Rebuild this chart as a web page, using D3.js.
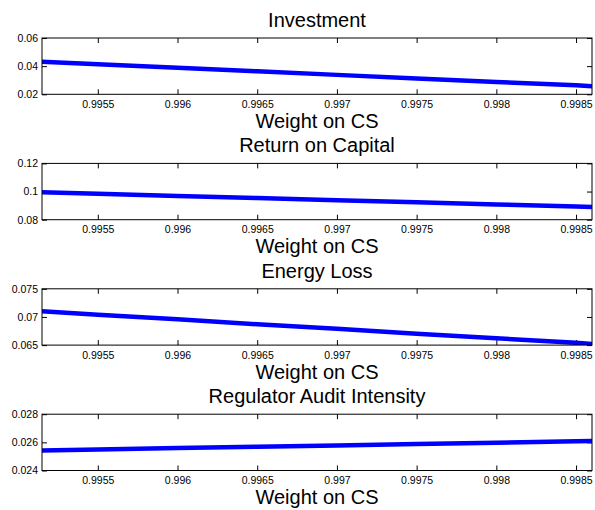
<!DOCTYPE html>
<html>
<head>
  <meta charset="utf-8" />
  <title>Weight on CS</title>
  <script src="https://cdnjs.cloudflare.com/ajax/libs/d3/7.8.5/d3.min.js"></script>
  <style>
    body { margin: 0; background: #fff; }
    svg { display: block; font-family: "Liberation Sans", Arial, sans-serif; }
    .tick line { stroke: #000; }
    .tick text { fill: #000; font-size: 10.5px; }
  </style>
</head>
<body>
  <svg id="chart" width="595" height="510"></svg>
  <script>
    // sampled weights on CS (x)
    const weights = [0.99515, 0.9955, 0.996, 0.9965, 0.997, 0.9975, 0.998, 0.9985, 0.9986]
    const xTicks = [0.9955, 0.996, 0.9965, 0.997, 0.9975, 0.998, 0.9985]
    const xTickLabels = ['0.9955', '0.996', '0.9965', '0.997', '0.9975', '0.998', '0.9985']

    const titles = ['Investment', 'Return on Capital', 'Energy Loss', 'Regulator Audit Intensity']

    const investment = [0.0431, 0.0413, 0.0388, 0.0363, 0.0338, 0.0313, 0.0288, 0.0264, 0.0258]
    const returnOnCapital = [0.0995, 0.0984, 0.0969, 0.0954, 0.0939, 0.0924, 0.0908, 0.0893, 0.0890]
    const energyLoss = [0.0710, 0.0704, 0.0696, 0.0687, 0.0679, 0.0670, 0.0662, 0.0654, 0.0652]
    const auditIntensity = [0.02542, 0.02549, 0.02559, 0.02569, 0.02578, 0.02588, 0.02598, 0.02608, 0.0261]

    const yDomains = [[0.02, 0.06], [0.08, 0.12], [0.065, 0.075], [0.024, 0.028]]
    const yTicks = [[0.02, 0.04, 0.06], [0.08, 0.1, 0.12], [0.065, 0.07, 0.075], [0.024, 0.026, 0.028]]
    const yTickLabels = [['0.02', '0.04', '0.06'], ['0.08', '0.1', '0.12'], ['0.065', '0.07', '0.075'], ['0.024', '0.026', '0.028']]

    const series = [investment, returnOnCapital, energyLoss, auditIntensity]

    const left = 42, right = 592, plotH = 56.3, firstTop = 38, step = 125.4
    const svg = d3.select('#chart')

    let xScale = d3.scaleLinear().domain([weights[0], weights[weights.length - 1]]).range([left, right])

    series.forEach(function(vals, i) {
      const top = firstTop + i * step
      const bottom = top + plotH
      let yScale = d3.scaleLinear().domain(yDomains[i]).range([bottom, top])

      const g = svg.append('g').attr('class', 'panel')

      g.append('clipPath').attr('id', 'clip' + i)
        .append('rect')
        .attr('x', left).attr('y', top)
        .attr('width', right - left).attr('height', plotH)

      // bottom axis with labels, ticks pointing in
      let xAxis = d3.axisBottom(xScale)
        .tickValues(xTicks)
        .tickFormat(function(d, j) { return xTickLabels[j] })
        .tickSizeInner(-5).tickSizeOuter(0).tickPadding(6)
      g.append('g').attr('transform', 'translate(0,' + bottom + ')').call(xAxis)

      let xAxisTop = d3.axisTop(xScale)
        .tickValues(xTicks).tickFormat('')
        .tickSizeInner(-5).tickSizeOuter(0)
      g.append('g').attr('transform', 'translate(0,' + top + ')').call(xAxisTop)

      let yAxis = d3.axisLeft(yScale)
        .tickValues(yTicks[i])
        .tickFormat(function(d, j) { return yTickLabels[i][j] })
        .tickSizeInner(-5).tickSizeOuter(0).tickPadding(4)
      g.append('g').attr('transform', 'translate(' + left + ',0)').call(yAxis)

      let yAxisRight = d3.axisRight(yScale)
        .tickValues(yTicks[i]).tickFormat('')
        .tickSizeInner(-5).tickSizeOuter(0)
      g.append('g').attr('transform', 'translate(' + right + ',0)').call(yAxisRight)

      g.selectAll('path.domain').remove()

      g.append('path')
        .datum(vals)
        .attr('clip-path', 'url(#clip' + i + ')')
        .attr('fill', 'none')
        .attr('stroke', '#0000ff')
        .attr('stroke-width', 4.5)
        .attr('d', d3.line()
          .x(function(d, j) { return xScale(weights[j]) })
          .y(function(d) { return yScale(d) }))

      g.append('rect')
        .attr('x', left).attr('y', top)
        .attr('width', right - left).attr('height', plotH)
        .attr('fill', 'none').attr('stroke', '#000').attr('stroke-width', 1)

      g.append('text')
        .attr('x', (left + right) / 2).attr('y', top - 11)
        .attr('text-anchor', 'middle')
        .style('font-size', '20px')
        .text(titles[i])

      g.append('text')
        .attr('x', (left + right) / 2).attr('y', bottom + 33.5)
        .attr('text-anchor', 'middle')
        .style('font-size', '20px')
        .text('Weight on CS')
    })
  </script>
</body>
</html>
